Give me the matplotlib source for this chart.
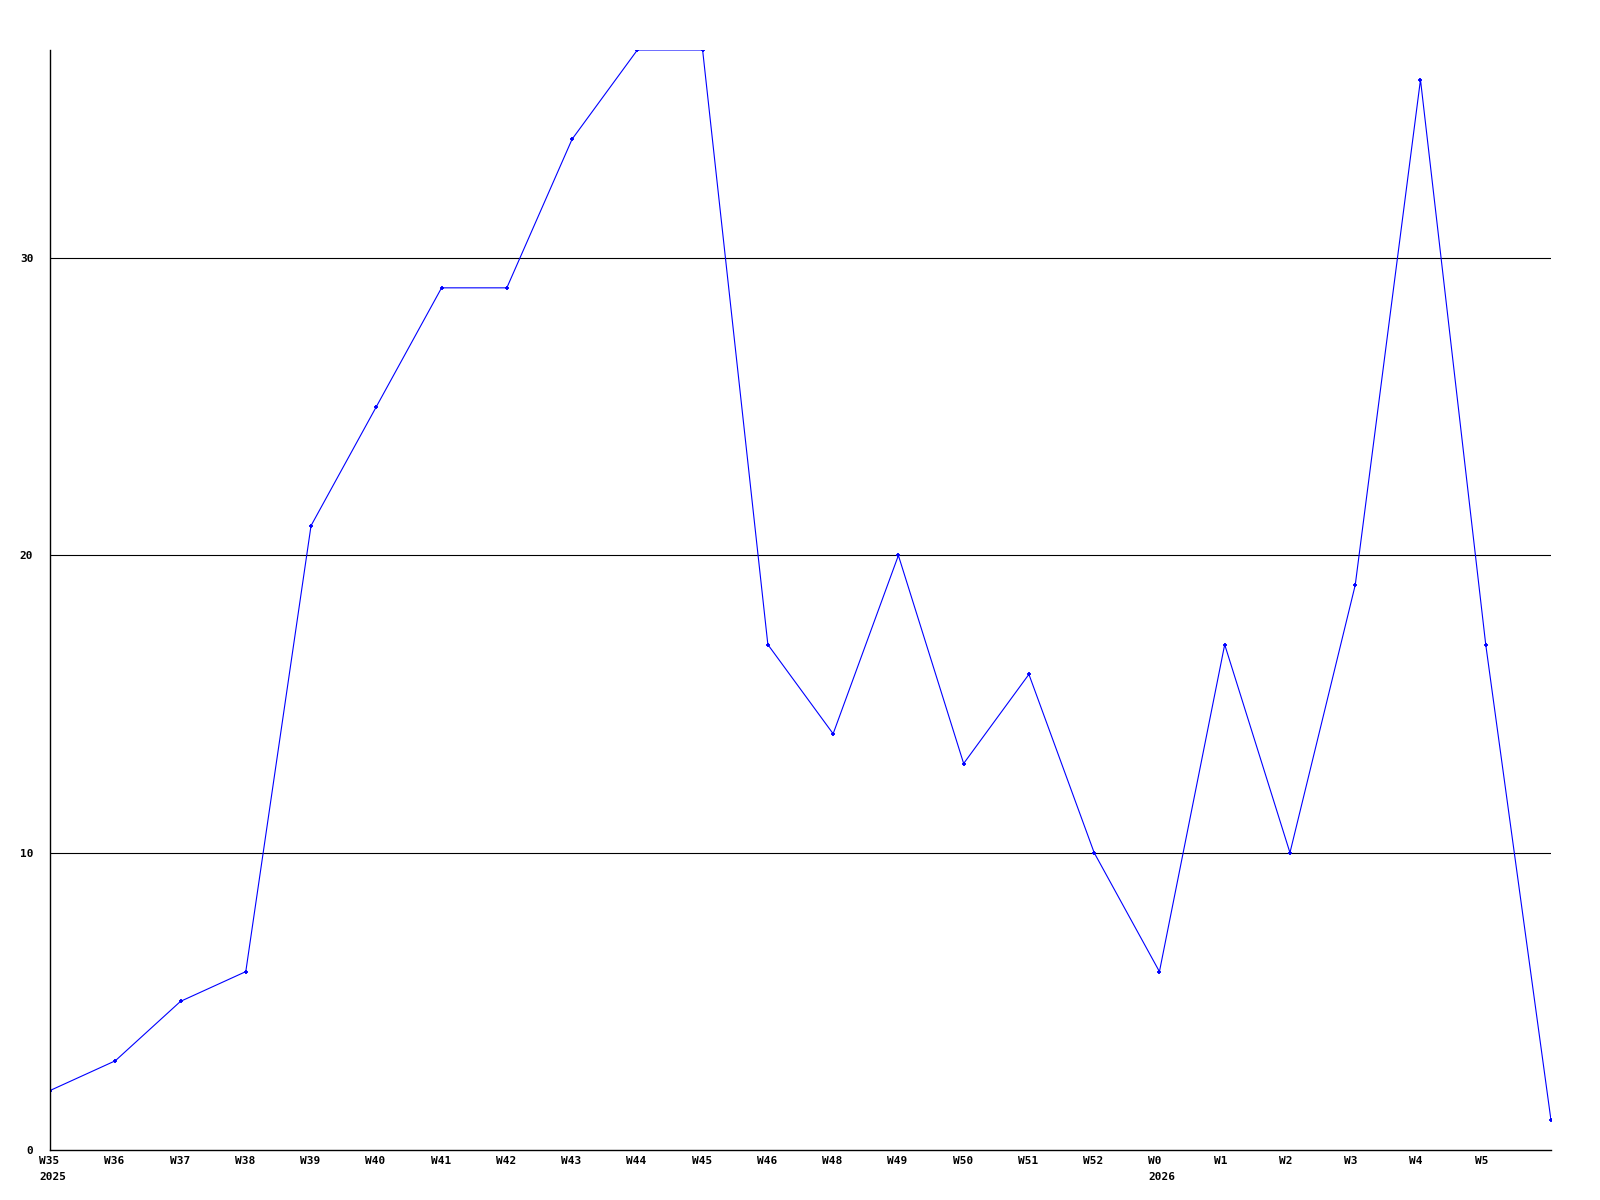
import matplotlib.pyplot as plt
import matplotlib.transforms as mtransforms

weeks = [ 'W35', 'W36', 'W37', 'W38', 'W39', 'W40', 'W41', 'W42', 'W43', 'W44', 'W45', 'W46',
          'W48', 'W49', 'W50', 'W51', 'W52', 'W0', 'W1', 'W2', 'W3', 'W4', 'W5', '' ]
values = [ 2, 3, 5, 6, 21, 25, 29, 29, 34, 37, 37, 17, 14, 20, 13, 16, 10, 6, 17, 10, 19, 36, 17, 1 ]
years = { 0: '2025', 17: '2026' }
y_ticks = [ 0, 10, 20, 30 ]

font = 'DejaVu Sans Mono'

fig = plt.figure( figsize = ( 16, 12 ), dpi = 100 )
ax = fig.add_axes( [ 50 / 1600, 50 / 1200, 1501 / 1600, 1100 / 1200 ] )

x = list( range( len( values ) ) )
ax.plot( x, values, color = '#0000ff', linewidth = 0.8, marker = '+', markersize = 3.5, markeredgewidth = 1.3 )

for t in y_ticks[ 1: ]:
    ax.axhline( t, color = 'black', linewidth = 0.8, zorder = 0 )

ax.set_xlim( 0, len( values ) - 1 )
ax.set_ylim( 0, 37 )

ax.spines[ 'top' ].set_visible( False )
ax.spines[ 'right' ].set_visible( False )
ax.spines[ 'left' ].set_linewidth( 1.0 )
ax.spines[ 'bottom' ].set_linewidth( 1.0 )

ax.set_yticks( y_ticks )
ax.set_yticklabels( [ str( t ) for t in y_ticks ], fontfamily = font, fontweight = 'bold', fontsize = 8 )
ax.tick_params( axis = 'y', length = 0, pad = 12 )

ax.set_xticks( x[ :-1 ] )
ax.set_xticklabels( weeks[ :-1 ], fontfamily = font, fontweight = 'bold', fontsize = 8, ha = 'left' )
ax.tick_params( axis = 'x', length = 0, pad = 4 )
offset = mtransforms.ScaledTranslation( -11 / 100, 0, fig.dpi_scale_trans )
for label in ax.get_xticklabels():
    label.set_transform( label.get_transform() + offset )

trans = mtransforms.blended_transform_factory( ax.transData, fig.transFigure ) + offset
for i, yr in years.items():
    ax.text( i, 1 - 1177 / 1200, yr, transform = trans, ha = 'left', va = 'center',
             fontfamily = font, fontweight = 'bold', fontsize = 8 )

plt.savefig( 'out.png' )
